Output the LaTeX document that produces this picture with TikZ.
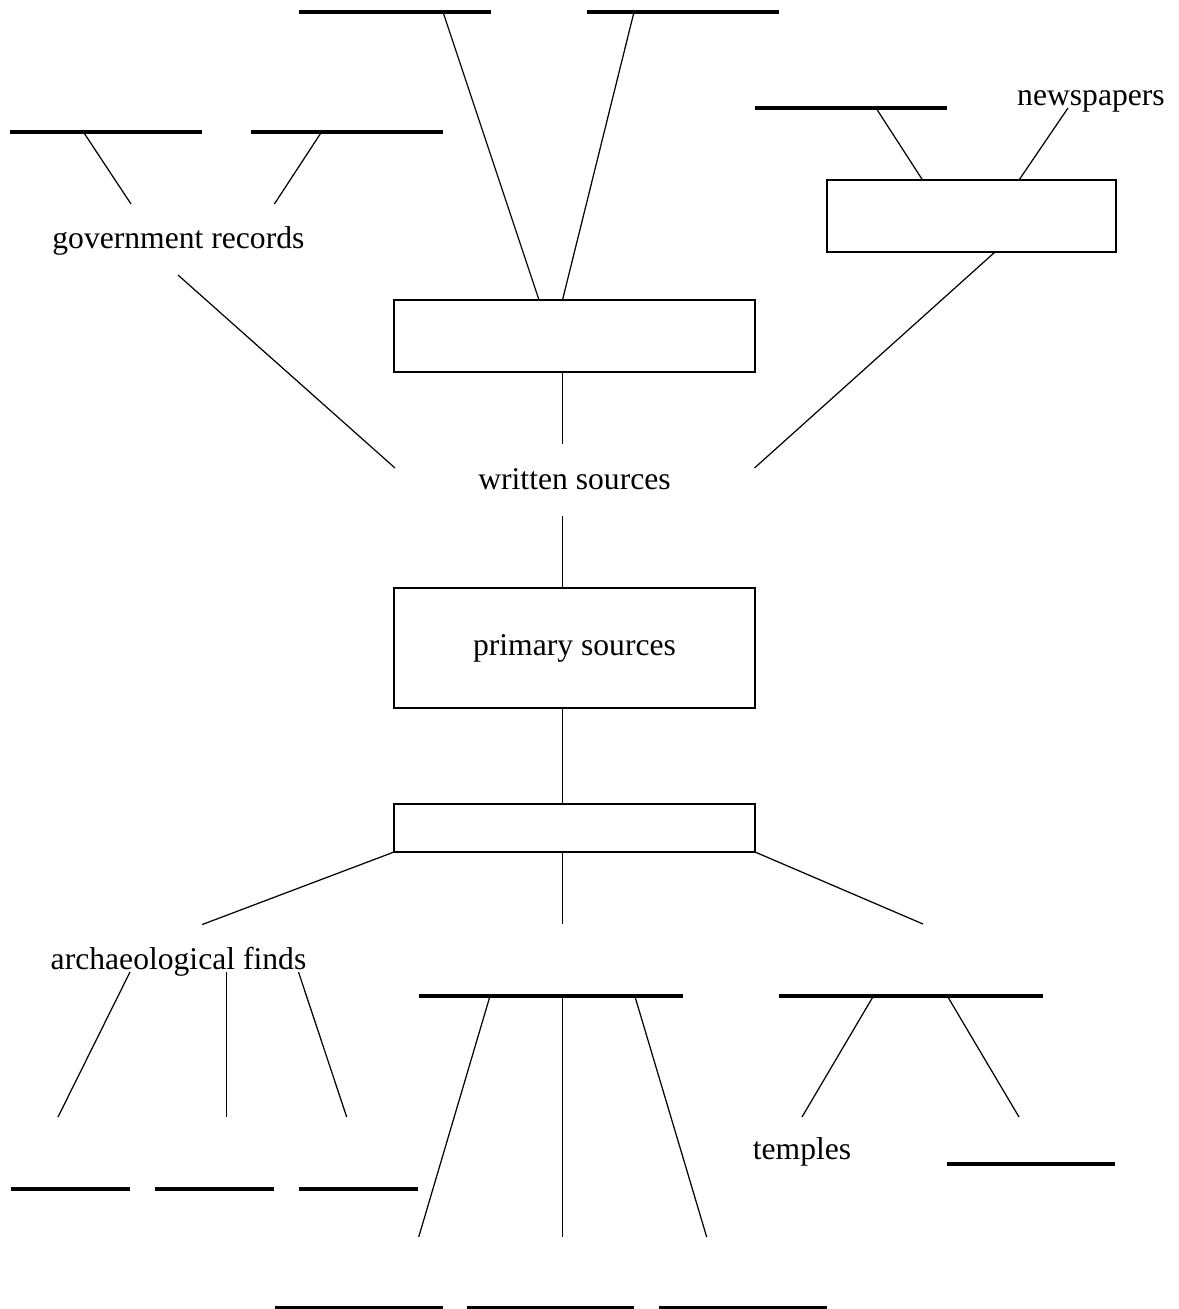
\documentclass[tikz,border=0pt]{standalone}
\usepackage{fontspec}
\setmainfont{Liberation Serif}
\usetikzlibrary{calc}

\tikzset{
  box/.style={draw, line width=0.9pt, inner sep=0pt, outer sep=0pt, minimum width=7.22cm},
  lbl/.style={inner sep=0pt, anchor=base, font=\fontsize{18}{22}\selectfont},
  link/.style={line width=0.7pt},
  blank/.style={line width=1.8pt},
}

\begin{document}
\begin{tikzpicture}[x=0.02cm, y=-0.02cm] % one unit = one pixel of the sketch
        \useasboundingbox (0,0) rectangle (1179,1309);
        % boxes
        \node[box, minimum height=1.44cm] (wbox) at (574.5,336) {};
        \node[box, minimum height=2.4cm, font=\fontsize{18}{22}\selectfont] (primary) at (574.5,648) {primary sources};
        \node[box, minimum height=0.96cm] (pbox) at (574.5,828) {};
        \node[box, minimum width=5.78cm, minimum height=1.44cm] (nbox) at (971.5,216) {};
        % labels
        \node[lbl] (written) at (574.5,489) {written sources};
        \node[lbl] (gov) at (178.4,248) {government records};
        \node[lbl] (news) at (1091,105) {newspapers};
        \node[lbl] (arch) at (178.5,969) {archaeological finds};
        \node[lbl] (temples) at (802,1159) {temples};

        % blanks to fill in
        \draw[blank] (298.5,12) -- (490.6,12);
        \draw[blank] (587,12) -- (779,12);
        \draw[blank] (10.3,132) -- (202.4,132);
        \draw[blank] (250.7,132) -- (442.8,132);
        \draw[blank] (755,108) -- (947,108);
        \draw[blank] (10.7,1189) -- (130,1189);
        \draw[blank] (154.6,1189) -- (274.4,1189);
        \draw[blank] (298.5,1189) -- (418.3,1189);
        \draw[blank] (418.7,996) -- (682.7,996);
        \draw[blank] (778.6,996) -- (1042.6,996);
        \draw[blank] (946.8,1164) -- (1114.5,1164);
        \draw[blank] (275,1307.5) -- (442.7,1307.5);
        \draw[blank] (466.7,1307.5) -- (634,1307.5);
        \draw[blank] (659,1307.5) -- (826.5,1307.5);

        % free ends
        \coordinate (top1) at (443,12);
        \coordinate (top2) at (634,12);
        \coordinate (gl1) at (83.4,132);
        \coordinate (gl2) at (321.5,132);
        \coordinate (gu1) at (131,204);
        \coordinate (gu2) at (274.4,204);
        \coordinate (gd) at (178,275);
        \coordinate (nl1) at (876,108);
        \coordinate (nu) at (1068,108);
        \coordinate (wu) at (562.5,444);
        \coordinate (wd) at (562.5,516);
        \coordinate (wl) at (395,468);
        \coordinate (wr) at (754.5,468);
        \coordinate (pl) at (202,924.6);
        \coordinate (pm) at (562.5,924);
        \coordinate (pr) at (923,924);
        \coordinate (a1) at (130,972);
        \coordinate (a2) at (226.6,972);
        \coordinate (a3) at (298.5,972);
        \coordinate (a1d) at (58,1117);
        \coordinate (a2d) at (226.6,1117);
        \coordinate (a3d) at (346.7,1117);
        \coordinate (m1) at (490,996);
        \coordinate (m2) at (562.5,996);
        \coordinate (m3) at (634.8,996);
        \coordinate (m1d) at (418.7,1237);
        \coordinate (m2d) at (562.5,1237);
        \coordinate (m3d) at (706.7,1237);
        \coordinate (r1) at (873.4,996);
        \coordinate (r2) at (947.3,996);
        \coordinate (r1d) at (802,1117);
        \coordinate (r2d) at (1019,1117);

        % connectors
        \draw[link] (top1) -- ($(wbox.north)+(-35.5,0)$);
        \draw[link] (top2) -- ($(wbox.north)+(-12,0)$);
        \draw[link] ($(wbox.south)+(-12,0)$) -- (wu);
        \draw[link] (gl1) -- (gu1);
        \draw[link] (gl2) -- (gu2);
        \draw[link] (gd) -- (wl);
        \draw[link] (nl1) -- ($(nbox.north west)+(95.5,0)$);
        \draw[link] (nu) -- ($(nbox.north west)+(192,0)$);
        \draw[link] ($(nbox.south west)+(168,0)$) -- (wr);
        \draw[link] (wd) -- ($(primary.north)+(-12,0)$);
        \draw[link] ($(primary.south)+(-12,0)$) -- ($(pbox.north)+(-12,0)$);
        \draw[link] (pbox.south west) -- (pl);
        \draw[link] ($(pbox.south)+(-12,0)$) -- (pm);
        \draw[link] (pbox.south east) -- (pr);
        \draw[link] (a1) -- (a1d);
        \draw[link] (a2) -- (a2d);
        \draw[link] (a3) -- (a3d);
        \draw[link] (m1) -- (m1d);
        \draw[link] (m2) -- (m2d);
        \draw[link] (m3) -- (m3d);
        \draw[link] (r1) -- (r1d);
        \draw[link] (r2) -- (r2d);
\end{tikzpicture}
\end{document}
